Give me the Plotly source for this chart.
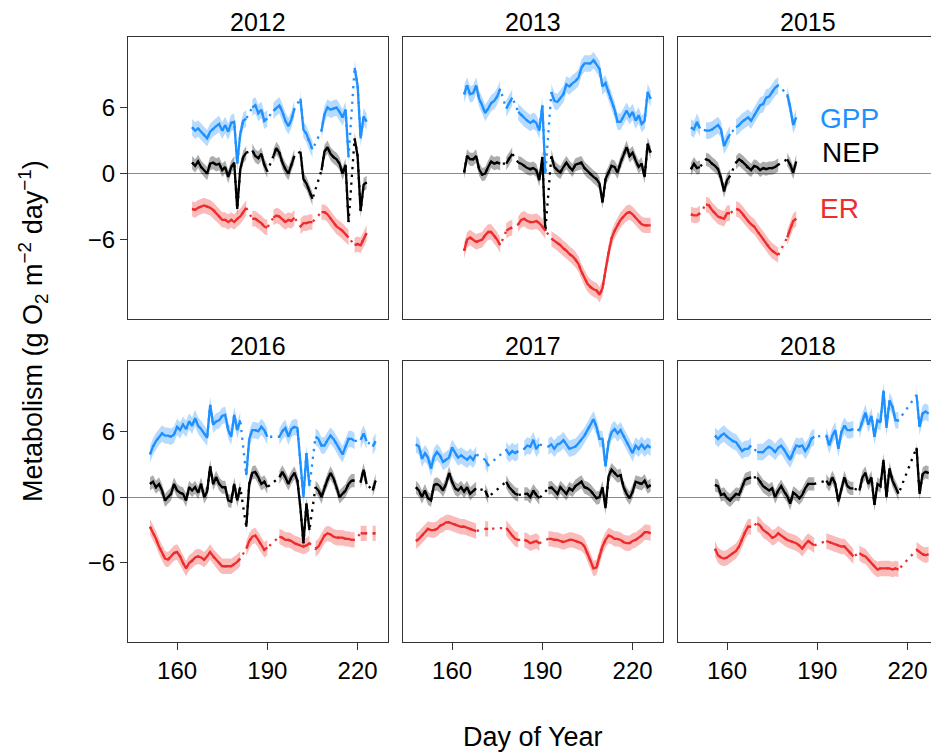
import plotly.graph_objects as go

# ---------------- data ----------------
YEARS = ["2012", "2013", "2015", "2016", "2017", "2018"]
FIRST_DAY = [165, 164, 148, 151, 148, 156]
X_TICKS = [160, 190, 220]
Y_TICKS = [-6, 0, 6]
SERIES = ["GPP", "NEP", "ER"]
BAND_HALF_WIDTH = [0.75, 0.6, 0.7]   # GPP, NEP, ER uncertainty half-width

GPP_2012 = [4.2, 3.9, 4.1, 3.8, 3.5, 3.2, 3.8, 4.1, 4.3, 4.5,
            3.9, 4.4, 3.8, 4.6, 4.7, 0.9, 3.6, 4.8, 5.0, None,
            6.0, 6.2, 5.5, 5.8, 4.8, 5.0, None, 5.7, 6.0, 6.2,
            5.6, 4.8, 4.3, 4.9, 5.9, None, 6.8, 4.0, 3.6, 2.8,
            2.2, None, None, 3.9, 5.4, 6.0, 5.8, 5.9, 6.0, 5.6,
            5.1, 5.8, 1.5, None, 9.6, 8.0, 3.2, 5.2, 4.7]
NEP_2012 = [1.0, 0.7, 1.1, 0.6, 0.3, 0.0, 0.9, 1.0, 0.8, 0.9,
            0.3, 0.6, -0.3, 0.6, 1.0, -3.2, 0.4, 1.5, 1.9, None,
            2.1, 1.6, 1.4, 1.8, 0.8, 0.2, None, 1.6, 2.3, 1.9,
            1.0, 0.4, 0.0, 0.8, 1.6, None, 2.0, -0.5, -0.9, -1.6,
            -2.3, None, None, 0.3, 2.0, 2.4, 1.8, 1.5, 1.3, 0.9,
            0.0, 0.8, -4.4, None, 3.2, 1.6, -3.4, -1.0, -0.8]
ER_2012 = [-3.2, -3.3, -3.1, -3.0, -2.9, -3.0, -3.1, -3.3, -3.6, -3.9,
           -4.2, -4.2, -4.4, -4.2, -4.4, -4.1, -3.9, -3.5, -3.1, None,
           -4.1, -4.1, -4.3, -4.5, -4.8, -4.9, None, -4.0, -3.8, -3.9,
           -4.2, -4.4, -4.2, -4.3, -4.0, None, -4.8, -4.5, -4.5, -4.4,
           -4.4, None, None, -3.5, -3.5, -3.7, -4.1, -4.5, -4.8, -5.0,
           -5.2, -5.5, -5.8, None, -6.5, -6.4, -6.5, -6.0, -5.4]

GPP_2013 = [7.2, 8.0, 7.2, 7.3, 8.0, 6.8, 6.2, 5.5, 5.9, 6.4,
            6.6, 7.0, 7.7, None, 5.9, 6.4, 6.9, None, 5.6, 5.3,
            5.0, 4.8, 4.6, 4.8, 4.6, 3.9, 6.2, 0.0, None, 7.4,
            6.6, 6.5, 6.9, 7.2, 8.1, 7.9, 8.2, 8.4, 8.7, 9.6,
            10.0, 10.0, 10.0, 10.3, 9.9, 9.5, 7.9, 8.2, 7.4, 6.6,
            5.8, 4.7, 4.7, 5.2, 5.7, 5.2, 5.6, 4.8, 5.3, 4.5,
            4.8, 7.4, 6.8]
NEP_2013 = [0.1, 1.6, 1.3, 1.3, 1.6, 0.4, -0.1, 0.0, 0.6, 1.1,
            0.9, 1.0, 0.9, None, 0.9, 1.4, 1.8, None, 1.0, 0.9,
            0.7, 0.5, 0.4, 0.5, 0.3, -0.6, 1.5, -5.2, None, 1.6,
            0.6, 0.3, 0.1, 0.6, 1.0, 0.6, 0.3, 0.8, 0.9, 1.0,
            0.5, 0.2, 0.0, -0.3, -0.5, -0.9, -2.6, -0.5, 0.1, 0.7,
            0.6, 0.1, 1.0, 1.7, 2.4, 1.6, 1.9, 1.2, 0.6, 0.9,
            -0.3, 2.7, 1.9]
ER_2013 = [-7.0, -6.0, -5.8, -6.0, -6.2, -6.1, -6.0, -5.6, -5.3, -5.3,
           -5.6, -6.0, -6.5, None, -5.2, -5.0, -4.9, None, -4.6, -4.2,
           -4.1, -4.3, -4.4, -4.4, -4.3, -4.5, -4.8, -5.2, None, -5.9,
           -6.1, -6.3, -6.5, -6.8, -7.0, -7.3, -7.5, -7.8, -8.2, -8.9,
           -9.5, -10.0, -10.3, -10.5, -10.6, -11.0, -10.4, -8.6, -7.2, -5.9,
           -5.2, -4.7, -4.2, -3.9, -3.6, -3.5, -3.7, -4.0, -4.3, -4.6,
           -4.7, -4.7, -4.7]

GPP_2015 = [4.2, 4.0, 4.7, 4.1, None, 3.9, 3.9, 4.0, 4.2, 4.4,
            4.0, 2.5, 3.1, 3.6, None, 4.2, 4.4, 4.7, 4.9, 5.1,
            4.8, 5.3, 5.8, 6.2, 6.3, 6.9, 7.0, 7.4, 7.8, 8.0,
            None, None, 7.2, 6.0, 4.4, 5.1]
NEP_2015 = [0.4, 0.9, 0.5, 0.6, None, 1.3, 1.2, 0.9, 0.7, 0.4,
            -0.4, -1.6, -0.6, -0.2, None, 1.0, 1.3, 1.1, 0.8, 0.5,
            0.3, 0.7, 0.6, 0.3, 0.5, 0.4, 0.5, 0.5, 0.6, 0.8,
            None, None, 1.3, 0.8, 0.1, 1.1]
ER_2015 = [-3.7, -3.8, -3.8, -3.6, None, -2.8, -2.9, -3.3, -3.6, -3.9,
           -4.0, -4.1, -3.6, -3.6, None, -3.2, -3.3, -3.6, -4.0, -4.3,
           -4.6, -4.8, -5.2, -5.6, -5.9, -6.3, -6.7, -7.0, -7.2, -7.4,
           None, None, -5.8, -5.0, -4.3, -4.1]

GPP_2016 = [3.9, 4.6, 5.1, 5.5, 5.8, 5.6, 5.6, 5.5, 5.7, 6.4,
            6.1, 6.6, 6.2, 6.9, 6.5, 7.2, 6.5, 6.2, 5.8, 5.4,
            8.4, 6.6, 6.9, 7.0, 7.4, 7.5, 6.1, 5.5, 7.5, 6.1,
            7.0, None, 2.0, 5.3, 6.1, 6.1, 6.0, 6.4, 6.1, 5.5,
            None, None, None, 5.5, 6.0, 6.3, 5.5, 6.2, 6.4, 6.3,
            3.0, 0.0, 4.0, 1.0, None, 5.5, 5.3, 4.7, 4.7, 5.2,
            5.6, 5.3, 4.8, 4.3, 3.9, 4.6, 5.3, 5.3, 5.1, None,
            5.2, 5.8, 5.1, None, 4.6, 5.1]
NEP_2016 = [1.2, 1.4, 0.9, 1.2, 0.6, -0.3, 0.0, 0.3, 1.2, 0.6,
            0.4, 0.3, -0.3, 0.9, 0.6, 0.9, 0.4, 1.2, 0.0, 0.5,
            2.8, 1.2, 1.8, 1.2, 0.9, 0.9, -0.3, -0.4, 1.2, -0.3,
            0.9, None, -2.7, 1.2, 2.2, 2.3, 1.8, 1.2, 1.4, 0.9,
            None, None, None, 1.8, 2.3, 1.8, 1.2, 1.8, 2.2, 1.5,
            -1.0, -4.2, -0.6, -3.0, None, 0.9, 0.6, 0.0, 0.9, 1.6,
            2.2, 1.7, 0.9, 0.0, 0.3, 0.6, 1.2, 1.5, 1.5, None,
            1.4, 2.5, 1.2, None, 0.6, 1.5]
ER_2016 = [-2.7, -3.2, -3.8, -4.5, -5.1, -5.6, -5.7, -5.4, -5.1, -5.0,
           -5.4, -6.0, -6.5, -6.0, -5.8, -5.5, -5.4, -5.5, -5.7, -5.4,
           -5.0, -5.4, -5.7, -6.1, -6.3, -6.3, -6.3, -6.3, -6.1, -5.9,
           -5.6, None, -4.7, -4.0, -3.6, -3.5, -3.9, -4.4, -4.8, -4.6,
           None, None, None, -3.6, -3.7, -3.9, -3.9, -4.0, -4.2, -4.3,
           -4.4, -4.5, -4.4, -4.2, None, -4.7, -4.5, -4.0, -3.5, -3.3,
           -3.4, -3.6, -3.7, -3.7, -3.7, -3.8, -3.8, -3.9, -3.9, None,
           -3.3, -3.3, -3.3, None, -3.3, -3.3]

GPP_2017 = [4.8, 4.6, 3.5, 4.0, 3.6, 2.6, 3.7, 4.1, 3.8, 3.2,
            3.4, 3.6, 4.5, 4.1, 3.6, 3.8, 3.6, 3.4, 3.7, 3.4,
            3.9, None, None, 3.4, 2.9, None, None, None, None, None,
            4.3, 3.9, 4.2, 4.0, 4.2, None, 4.4, 4.7, 4.6, 5.2,
            4.4, 4.8, None, None, 4.6, 4.8, 4.4, 4.8, 4.9, 5.2,
            4.8, 4.4, 4.5, 4.6, 4.9, 5.2, 5.6, 6.1, 6.6, 7.1,
            6.4, 5.3, 5.3, 2.8, 5.0, 5.9, 6.2, 5.8, 6.1, 5.6,
            5.0, 4.5, 4.0, 4.7, 4.4, 4.8, 4.4, 4.7, 4.5]
NEP_2017 = [0.9, 0.6, 0.0, 0.6, -0.1, -0.3, 1.1, 1.2, 1.0, 0.6,
            1.2, 2.2, 1.4, 0.8, 0.6, 0.9, 0.5, 0.9, 0.3, 0.6,
            0.8, None, None, 0.6, 0.0, None, None, None, None, None,
            1.4, 0.9, 0.6, 0.3, 0.2, None, 0.3, 0.3, 0.0, 0.6,
            0.2, -0.1, None, None, 0.8, 0.9, 0.6, 0.3, 0.9, 0.6,
            0.3, 0.8, 0.6, 1.0, 1.2, 1.4, 0.9, 0.8, 0.6, 0.3,
            -0.1, 0.0, 0.9, -1.0, 1.9, 2.5, 2.2, 1.9, 2.0, 0.9,
            0.3, -0.1, 0.5, 1.4, 1.3, 1.2, 1.5, 0.9, 1.1]
ER_2017 = [-4.0, -3.8, -3.5, -3.2, -2.9, -3.0, -3.0, -2.9, -2.6, -2.5,
           -2.3, -2.3, -2.4, -2.5, -2.6, -2.7, -2.7, -2.8, -2.9, -3.0,
           -3.1, None, None, -2.9, -2.9, None, None, None, None, None,
           -2.8, -3.2, -3.5, -3.8, -3.9, None, -3.9, -4.0, -4.2, -4.1,
           -4.0, -4.2, None, None, -3.8, -3.8, -3.9, -3.9, -4.0, -4.1,
           -4.0, -3.9, -3.9, -4.0, -4.1, -4.2, -4.5, -5.1, -5.8, -6.5,
           -6.4, -5.4, -4.5, -3.9, -3.5, -3.6, -3.8, -3.8, -3.9, -4.1,
           -4.2, -4.2, -4.0, -3.9, -3.7, -3.5, -3.2, -3.2, -3.3]

GPP_2018 = [5.6, 5.3, 5.6, 5.8, 5.5, 5.3, 5.1, 5.0, 4.6, 4.2,
            4.4, 4.4, 4.7, None, 4.1, 4.1, 4.1, 4.4, 4.6, 4.4,
            4.1, 4.5, 4.7, 4.3, 3.8, 3.4, 4.1, 4.7, 4.6, 4.7,
            4.2, 4.6, 5.3, 5.5, None, None, None, 5.6, 4.7, 5.6,
            6.1, 4.4, 5.9, 6.5, 6.1, 6.1, 6.2, None, 6.1, 7.0,
            7.7, 6.6, 7.4, 5.5, 7.0, 6.8, 9.7, 6.3, 8.8, 8.2,
            7.0, 7.0, None, None, None, None, None, 9.3, 6.4, 7.6,
            7.8, 7.6]
NEP_2018 = [1.1, 1.0, 0.2, 0.3, -0.1, -0.3, 0.0, 0.3, 0.2, 0.9,
            1.6, 1.7, 1.8, None, 1.8, 1.4, 1.0, 0.8, 0.6, 0.8,
            0.0, 0.6, 1.0, 0.5, 0.1, -0.6, 0.4, 0.2, -0.1, 0.2,
            0.8, 1.2, 1.2, 1.2, None, None, None, 1.5, 1.1, 1.8,
            1.2, -0.4, 0.8, 1.8, 1.0, 0.8, 0.8, None, 0.6, 1.8,
            2.2, 1.2, 1.8, -0.7, 1.2, 1.0, 3.4, 0.0, 2.6, 1.5,
            0.9, 0.3, None, None, None, None, None, 4.5, 0.3, 2.1,
            2.3, 2.2]
ER_2018 = [-4.7, -5.3, -5.5, -5.6, -5.5, -5.3, -5.1, -4.9, -4.5, -3.8,
           -3.2, -2.7, -2.7, None, -2.4, -2.6, -3.0, -3.2, -3.4, -3.7,
           -3.6, -3.3, -3.5, -3.7, -3.9, -4.0, -4.1, -4.2, -4.4, -4.7,
           -4.3, -4.0, -4.2, -4.4, None, None, None, -4.0, -4.1, -4.2,
           -4.3, -4.4, -4.5, -4.5, -4.8, -5.1, -5.4, None, -5.1, -5.3,
           -5.4, -5.7, -6.1, -6.4, -6.6, -6.5, -6.5, -6.5, -6.5, -6.6,
           -6.5, -6.6, None, None, None, None, None, -4.8, -5.0, -5.2,
           -5.3, -5.2]

TABLE = {
    "2012": [GPP_2012, NEP_2012, ER_2012],
    "2013": [GPP_2013, NEP_2013, ER_2013],
    "2015": [GPP_2015, NEP_2015, ER_2015],
    "2016": [GPP_2016, NEP_2016, ER_2016],
    "2017": [GPP_2017, NEP_2017, ER_2017],
    "2018": [GPP_2018, NEP_2018, ER_2018],
}

# ---------------- styling ----------------
FONT = "Liberation Sans, Arial, Helvetica, sans-serif"
LINE_COLOR = ["#1E90FF", "#000000", "#EE2C2C"]
FILL_COLOR = ["rgba(30,144,255,0.32)", "rgba(0,0,0,0.32)", "rgba(238,44,44,0.32)"]
W, H = 931, 755
COL_PX = [(128, 388), (403, 663), (678, 931)]
ROW_PX = [(37, 319), (361, 642)]
X_RANGE = [[143.7, 230.1], [143.7, 230.1], [143.7, 227.8]]
Y_RANGE = [-13.2, 12.4]
FRAME = "#333333"


def segments(days, vals):
    segs, cur = [], []
    for d, v in zip(days, vals):
        if v is None:
            if cur:
                segs.append(cur)
            cur = []
        else:
            cur.append((d, v))
    if cur:
        segs.append(cur)
    return segs


fig = go.Figure()
layout = {}

for i, yr in enumerate(YEARS):
    row, col = divmod(i, 3)
    xa = "x" if i == 0 else f"x{i+1}"
    ya = "y" if i == 0 else f"y{i+1}"
    first = FIRST_DAY[i]
    series_vals = TABLE[yr]

    ribbons, dotted, solid = [], [], []
    for s, vals in enumerate(series_vals):
        days = list(range(first, first + len(vals)))
        b = BAND_HALF_WIDTH[s]
        rx, ry = [], []
        for seg in segments(days, vals):
            if len(seg) < 2:
                continue
            xs = [p[0] for p in seg]
            up = [p[1] + b for p in seg]
            lo = [p[1] - b for p in seg]
            rx += xs + xs[::-1] + [None]
            ry += up + lo[::-1] + [None]
        ribbons.append(go.Scatter(x=rx, y=ry, xaxis=xa, yaxis=ya, mode="lines",
                                  fill="toself", fillcolor=FILL_COLOR[s],
                                  line=dict(width=0), hoverinfo="skip",
                                  showlegend=False))
        dx = [d for d, v in zip(days, vals) if v is not None]
        dy = [v for v in vals if v is not None]
        dotted.append(go.Scatter(x=dx, y=dy, xaxis=xa, yaxis=ya, mode="lines",
                                 line=dict(color=LINE_COLOR[s], width=2.3,
                                           dash="2.3px,5.5px"),
                                 hoverinfo="skip", showlegend=False))
        solid.append(go.Scatter(x=days, y=vals, xaxis=xa, yaxis=ya, mode="lines",
                                connectgaps=False,
                                line=dict(color=LINE_COLOR[s], width=2.3),
                                hoverinfo="skip", showlegend=False))
    for t in ribbons + dotted + solid:
        fig.add_trace(t)

    x0, x1 = COL_PX[col]
    y0, y1 = ROW_PX[row]
    xkey = "xaxis" if i == 0 else f"xaxis{i+1}"
    ykey = "yaxis" if i == 0 else f"yaxis{i+1}"
    layout[xkey] = dict(
        domain=[x0 / W, x1 / W], range=X_RANGE[col], anchor=ya,
        tickmode="array", tickvals=X_TICKS,
        showticklabels=(row == 1), ticks="outside" if row == 1 else "",
        ticklen=7, tickwidth=1.3, tickcolor=FRAME,
        tickfont=dict(family=FONT, size=24, color="black"),
        showline=True, mirror=True, linecolor=FRAME, linewidth=1.4,
        showgrid=False, zeroline=False, automargin=False, fixedrange=True,
    )
    layout[ykey] = dict(
        domain=[1 - y1 / H, 1 - y0 / H], range=Y_RANGE, anchor=xa,
        tickmode="array", tickvals=Y_TICKS,
        showticklabels=(col == 0), ticks="outside" if col == 0 else "",
        ticklen=7, tickwidth=1.3, tickcolor=FRAME,
        tickfont=dict(family=FONT, size=24, color="black"),
        showline=True, mirror=(col != 2), linecolor=FRAME, linewidth=1.4,
        showgrid=False, zeroline=True, zerolinecolor="#8a8a8a",
        zerolinewidth=1.1, automargin=False, fixedrange=True,
    )

annotations = []
for i, yr in enumerate(YEARS):
    row, col = divmod(i, 3)
    x0 = COL_PX[col][0]
    cx = x0 + 130
    cy = ROW_PX[row][0] - 15
    annotations.append(dict(text=yr, x=cx / W, y=1 - cy / H, xref="paper",
                            yref="paper", xanchor="center", yanchor="middle",
                            showarrow=False,
                            font=dict(family=FONT, size=25, color="black")))
annotations.append(dict(text="Day of Year", x=533 / W, y=1 - 737 / H,
                        xref="paper", yref="paper", xanchor="center",
                        yanchor="middle", showarrow=False,
                        font=dict(family=FONT, size=27, color="black")))
annotations.append(dict(
    text="Metabolism (g O<sub>2</sub> m<sup>\u22122</sup> day<sup>\u22121</sup>)",
    x=33 / W, y=1 - 331 / H, xref="paper", yref="paper", xanchor="center",
    yanchor="middle", textangle=-90, showarrow=False,
    font=dict(family=FONT, size=27, color="black")))
LABEL_POS = [(818, 118), (820, 152), (818, 208)]
for s, name in enumerate(SERIES):
    lx, ly = LABEL_POS[s]
    annotations.append(dict(text=name, x=lx / W, y=1 - ly / H, xref="paper",
                            yref="paper", xanchor="left", yanchor="middle",
                            showarrow=False,
                            font=dict(family=FONT, size=28,
                                      color=LINE_COLOR[s])))

fig.update_layout(
    template="none", width=W, height=H,
    margin=dict(l=0, r=0, t=0, b=0, pad=0),
    paper_bgcolor="white", plot_bgcolor="white",
    showlegend=False, annotations=annotations,
    font=dict(family=FONT, color="black"),
    **layout,
)

fig.write_html("out.html")
